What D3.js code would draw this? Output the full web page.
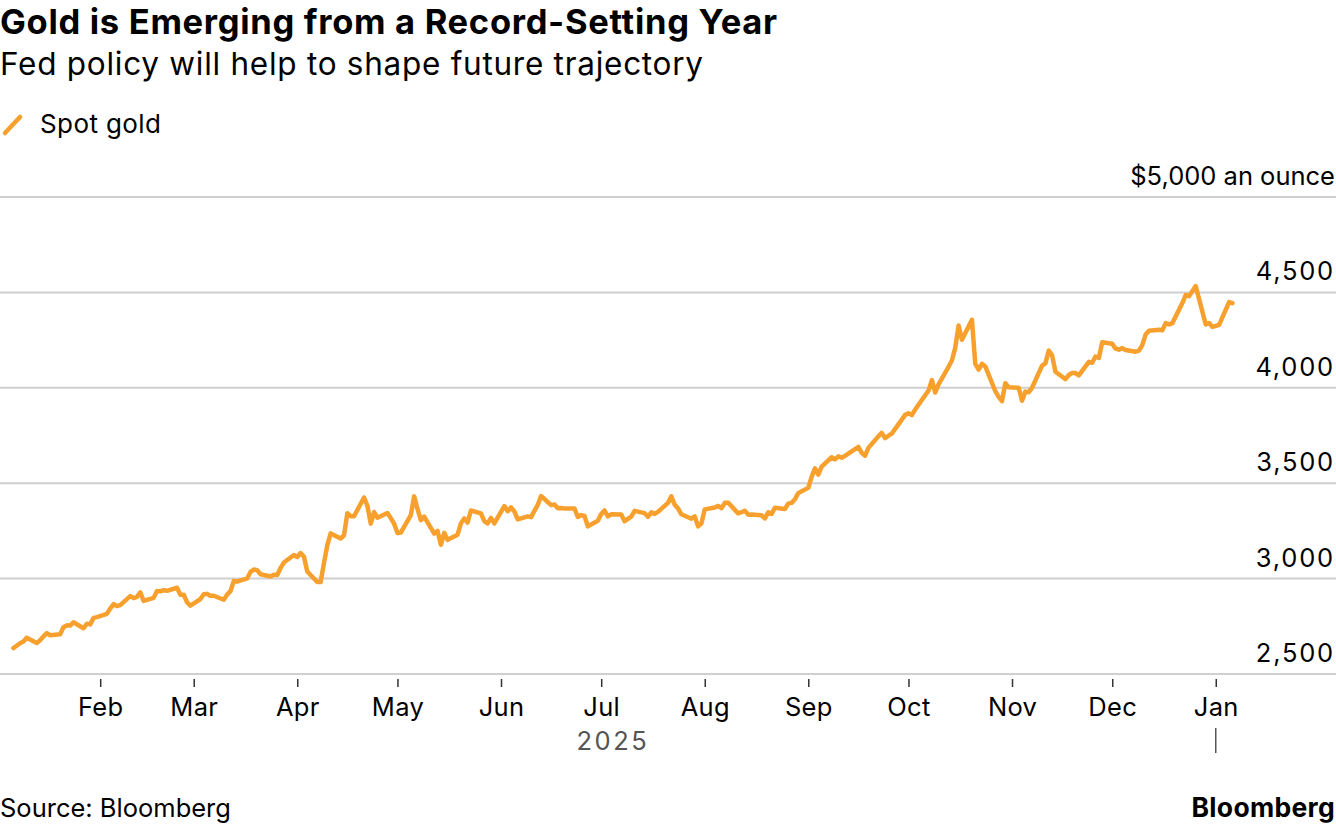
<!DOCTYPE html>
<html>
<head>
<meta charset="utf-8">
<script src="https://cdn.jsdelivr.net/npm/d3@7"></script>
<style>
  body { margin: 0; background: #fff; }
  svg { display: block; font-family: Inter, "Liberation Sans", sans-serif; }
</style>
</head>
<body>
<div id="chart"></div>
<script>
// Spot gold, USD an ounce, one value per trading day
var jan25 = [2636, 2648, 2661, 2670, 2690, 2663, 2677, 2697, 2714, 2703, 2708, 2745, 2755, 2754, 2771, 2740, 2763, 2760, 2794, 2798];
var feb25 = [2815, 2843, 2866, 2856, 2861, 2908, 2898, 2904, 2928, 2883, 2899, 2935, 2933, 2939, 2936, 2952, 2915, 2916, 2876, 2858];
var mar25 = [2893, 2918, 2920, 2910, 2910, 2889, 2916, 2934, 2988, 2984, 3001, 3035, 3048, 3044, 3023, 3011, 3020, 3019, 3056, 3084, 3124];
var apr25 = [3113, 3134, 3114, 3037, 2982, 2982, 3082, 3175, 3237, 3210, 3227, 3343, 3327, 3327, 3425, 3381, 3288, 3349, 3319, 3344, 3317, 3288];
var may25 = [3239, 3241, 3333, 3431, 3365, 3306, 3325, 3236, 3250, 3177, 3240, 3203, 3230, 3290, 3315, 3294, 3357, 3342, 3301, 3289, 3318, 3289];
var jun25 = [3380, 3353, 3373, 3352, 3310, 3326, 3322, 3355, 3386, 3433, 3385, 3388, 3369, 3370, 3368, 3368, 3323, 3333, 3328, 3274, 3303];
var jul25 = [3338, 3357, 3326, 3337, 3336, 3301, 3313, 3325, 3355, 3343, 3324, 3347, 3339, 3350, 3397, 3431, 3387, 3368, 3337, 3314, 3326, 3274, 3289];
var aug25 = [3363, 3373, 3381, 3369, 3397, 3398, 3342, 3348, 3356, 3335, 3336, 3332, 3315, 3347, 3339, 3371, 3365, 3393, 3397, 3416, 3448];
var sep25 = [3476, 3533, 3578, 3545, 3587, 3636, 3625, 3641, 3633, 3643, 3679, 3690, 3659, 3644, 3685, 3746, 3764, 3736, 3749, 3760, 3833, 3858];
var oct25 = [3866, 3857, 3886, 3961, 3985, 4040, 3975, 4018, 4110, 4143, 4209, 4326, 4252, 4356, 4125, 4095, 4126, 4112, 3982, 3952, 3930, 4024, 4003];
var nov25 = [4000, 3932, 3980, 3977, 4000, 4116, 4128, 4195, 4170, 4084, 4045, 4067, 4078, 4077, 4065, 4136, 4131, 4164, 4156, 4239];
var dec25 = [4231, 4205, 4200, 4208, 4198, 4189, 4195, 4224, 4279, 4299, 4304, 4302, 4339, 4332, 4339, 4444, 4486, 4480, 4533, 4332, 4340, 4319];
var jan26 = [4330, 4449, 4444];

// month start / end (inclusive) for each block of values
var months = [
  ["2025-01-06", "2025-01-31", jan25],
  ["2025-02-01", "2025-02-28", feb25],
  ["2025-03-01", "2025-03-31", mar25],
  ["2025-04-01", "2025-04-30", apr25],
  ["2025-05-01", "2025-05-31", may25],
  ["2025-06-01", "2025-06-30", jun25],
  ["2025-07-01", "2025-07-31", jul25],
  ["2025-08-01", "2025-08-31", aug25],
  ["2025-09-01", "2025-09-30", sep25],
  ["2025-10-01", "2025-10-31", oct25],
  ["2025-11-01", "2025-11-30", nov25],
  ["2025-12-01", "2025-12-31", dec25],
  ["2026-01-01", "2026-01-06", jan26]
];
var holidays = ["2025-12-25", "2026-01-01"];

var yTicks = [2500, 3000, 3500, 4000, 4500, 5000];
var monthTicks = ["2025-02-01", "2025-03-01", "2025-04-01", "2025-05-01", "2025-06-01", "2025-07-01",
                  "2025-08-01", "2025-09-01", "2025-10-01", "2025-11-01", "2025-12-01", "2026-01-01"];

var parse = d3.utcParse("%Y-%m-%d");
var fmtDay = d3.utcFormat("%Y-%m-%d");

// pair each value with its trading day
var data = [];
months.forEach(function(m) {
  var days = d3.utcDay.range(parse(m[0]), d3.utcDay.offset(parse(m[1]), 1))
    .filter(function(d) { return d.getUTCDay() > 0 && d.getUTCDay() < 6 && holidays.indexOf(fmtDay(d)) < 0; });
  m[2].forEach(function(v, i) {
    if (days[i]) data.push({date: days[i], value: v});
  });
});

var W = 1336, H = 826;
var plotTop = 197, plotBottom = 674;
var orange = "#f7a02e";

var x = d3.scaleUtc()
    .domain([parse("2025-01-02"), parse("2026-02-06")])
    .range([0, W]);

var y = d3.scaleLinear()
    .domain([2500, 5000])
    .range([plotBottom, plotTop]);

var svg = d3.select("#chart").append("svg")
    .attr("width", W)
    .attr("height", H);

// titles
svg.append("text")
    .attr("x", 0).attr("y", 34)
    .attr("font-size", 34.5).attr("font-weight", 700)
    .attr("textLength", 777).attr("lengthAdjust", "spacing")
    .attr("fill", "#000")
    .text("Gold is Emerging from a Record-Setting Year");

svg.append("text")
    .attr("x", 0).attr("y", 75)
    .attr("font-size", 31.5)
    .attr("textLength", 703).attr("lengthAdjust", "spacing")
    .attr("fill", "#000")
    .text("Fed policy will help to shape future trajectory");

// legend
svg.append("line")
    .attr("x1", 5).attr("y1", 133).attr("x2", 20).attr("y2", 117)
    .attr("stroke", orange).attr("stroke-width", 4.5).attr("stroke-linecap", "round");
svg.append("text")
    .attr("x", 40).attr("y", 133)
    .attr("font-size", 26)
    .attr("letter-spacing", 0.4)
    .text("Spot gold");

// gridlines + y labels
var grid = svg.append("g");
grid.selectAll("line")
    .data(yTicks)
  .enter().append("line")
    .attr("x1", 0).attr("x2", W)
    .attr("y1", function(d) { return y(d); })
    .attr("y2", function(d) { return y(d); })
    .attr("stroke", "#cfcfcf")
    .attr("stroke-width", 2);

grid.selectAll("text")
    .data(yTicks)
  .enter().append("text")
    .attr("x", W - 1)
    .attr("y", function(d) { return y(d) - 12; })
    .attr("text-anchor", "end")
    .attr("font-size", 25.5)
    .attr("letter-spacing", function(d) { return d === 5000 ? 0 : 1.8; })
    .attr("fill", "#000")
    .text(function(d) { return d === 5000 ? "$5,000 an ounce" : d3.format(",")(d); });

// x axis
var xAxis = svg.append("g")
    .attr("transform", "translate(0," + (plotBottom + 5) + ")")
    .call(d3.axisBottom(x)
      .tickValues(monthTicks.map(parse))
      .tickSize(8)
      .tickFormat(d3.utcFormat("%b")));
xAxis.select(".domain").remove();
xAxis.selectAll(".tick line").attr("stroke", "#333").attr("stroke-width", 1.5);
xAxis.selectAll(".tick text")
    .attr("y", 37)
    .attr("dy", 0)
    .attr("font-family", "Inter, 'Liberation Sans', sans-serif")
    .attr("font-size", 25.5)
    .attr("letter-spacing", 0.3)
    .attr("fill", "#000");

// year label and separator
svg.append("text")
    .attr("x", (x(data[0].date) + x(parse("2025-12-31"))) / 2)
    .attr("y", 750)
    .attr("text-anchor", "middle")
    .attr("font-size", 25.5)
    .attr("letter-spacing", 2.5)
    .attr("fill", "#555")
    .text("2025");
svg.append("line")
    .attr("x1", x(parse("2026-01-01"))).attr("x2", x(parse("2026-01-01")))
    .attr("y1", 728).attr("y2", 753)
    .attr("stroke", "#555").attr("stroke-width", 1.5);

// the line
var line = d3.line()
    .x(function(d) { return x(d.date); })
    .y(function(d) { return y(d.value); });

svg.append("path")
    .datum(data)
    .attr("fill", "none")
    .attr("stroke", orange)
    .attr("stroke-width", 4.5)
    .attr("stroke-linejoin", "round")
    .attr("stroke-linecap", "round")
    .attr("d", line);

// footer
svg.append("text")
    .attr("x", 0).attr("y", 817)
    .attr("font-size", 25.5)
    .text("Source: Bloomberg");
svg.append("text")
    .attr("x", W - 1).attr("y", 817)
    .attr("text-anchor", "end")
    .attr("font-size", 26.5).attr("font-weight", 700)
    .attr("letter-spacing", 0.3)
    .text("Bloomberg");
</script>
</body>
</html>
